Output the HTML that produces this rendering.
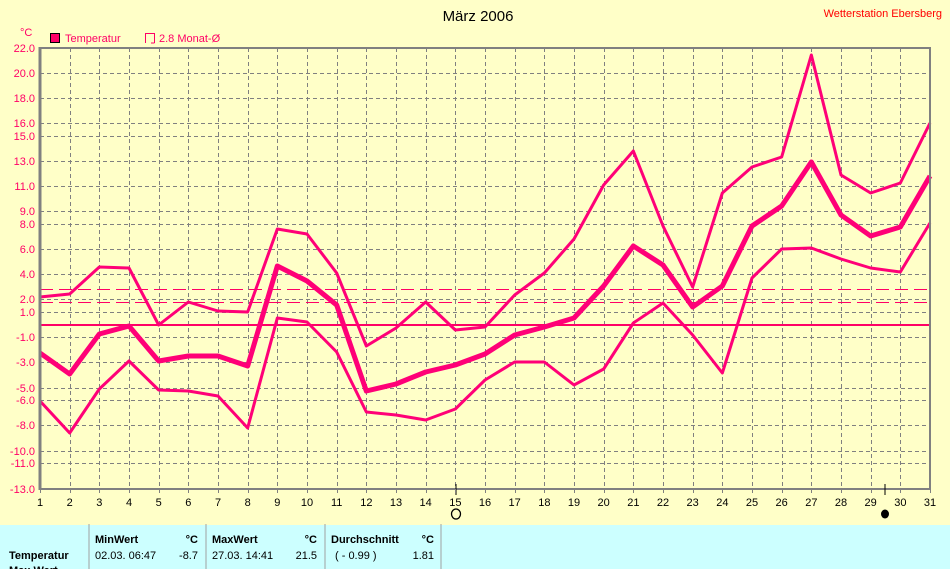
<!DOCTYPE html>
<html><head><meta charset="utf-8"><style>
body{margin:0;width:950px;height:569px;overflow:hidden;background:#ffffc8;font-family:"Liberation Sans",sans-serif}
</style></head><body>
<svg width="950" height="569" xmlns="http://www.w3.org/2000/svg" style="position:absolute;left:0;top:0" font-family="Liberation Sans, sans-serif">
<rect width="950" height="569" fill="#ffffc8"/>
<text x="478" y="21" font-size="15" text-anchor="middle" fill="#000">März 2006</text>
<text x="942" y="17" font-size="11" text-anchor="end" fill="#ff0000">Wetterstation Ebersberg</text>
<text x="20" y="36" font-size="11" fill="#ff0066">°C</text>
<rect x="50.5" y="33.5" width="9" height="9" fill="#ff0066" stroke="#000"/>
<text x="65" y="42" font-size="11" fill="#ff0066">Temperatur</text>
<path d="M145.5,43 V33.5 H154.5 V43 M151,43 H154.5" fill="none" stroke="#ff0066"/>
<text x="159" y="42" font-size="11" fill="#ff0066">2.8 Monat-Ø</text>
<g id="grid" stroke="#808080" stroke-dasharray="4,3" stroke-width="1">
</g>
<g id="ylab" font-size="11" fill="#ff0066" text-anchor="end"></g>
<g id="xlab" font-size="11" fill="#000" text-anchor="middle"></g>
<line x1="40" y1="289.5" x2="930" y2="289.5" stroke="#ff0066" stroke-dasharray="13,6"/>
<line x1="40" y1="302.5" x2="930" y2="302.5" stroke="#ff0066" stroke-dasharray="13,6"/>
<line x1="40" y1="325" x2="930" y2="325" stroke="#ff0066" stroke-width="2"/>
<g fill="none" stroke="#ff0077" stroke-linejoin="round">
<polyline id="mx" stroke-width="3"/>
<polyline id="mn" stroke-width="3"/>
<polyline id="av" stroke-width="5"/>
</g>
<path d="M40,48 H930 V489 H40 Z" fill="none" stroke="#808080" stroke-width="2"/>
<line x1="40" y1="47" x2="40" y2="490" stroke="#808080" stroke-width="3"/>
<line x1="456" y1="484" x2="456" y2="495" stroke="#000"/>
<line x1="885" y1="484" x2="885" y2="495" stroke="#000"/>
<ellipse cx="456" cy="514" rx="4.5" ry="5" fill="none" stroke="#000" stroke-width="1.3"/>
<ellipse cx="885" cy="514" rx="4" ry="4.5" fill="#000"/>
<rect x="0" y="524" width="950" height="45" fill="#ccffff"/>
<rect x="0" y="524" width="950" height="1" fill="#ffffc8"/>
<g stroke="#a0a0a0" stroke-width="1"><line x1="89" y1="524" x2="89" y2="569"/><line x1="206" y1="524" x2="206" y2="569"/><line x1="325" y1="524" x2="325" y2="569"/><line x1="441" y1="524" x2="441" y2="569"/></g>
<g font-size="11" fill="#000">
<text x="95" y="543" font-weight="bold">MinWert</text><text x="198" y="543" text-anchor="end" font-weight="bold">°C</text>
<text x="212" y="543" font-weight="bold">MaxWert</text><text x="317" y="543" text-anchor="end" font-weight="bold">°C</text>
<text x="331" y="543" font-weight="bold">Durchschnitt</text><text x="434" y="543" text-anchor="end" font-weight="bold">°C</text>
<text x="9" y="559" font-weight="bold">Temperatur</text>
<text x="95" y="559">02.03.  06:47</text><text x="198" y="559" text-anchor="end">-8.7</text>
<text x="212" y="559">27.03.  14:41</text><text x="317" y="559" text-anchor="end">21.5</text>
<text x="335" y="559">( - 0.99 )</text><text x="434" y="559" text-anchor="end">1.81</text>
<text x="9" y="574" font-weight="bold">Max.Wert</text>
</g>
</svg>
<script>
var ns="http://www.w3.org/2000/svg";
function X(d){return 40+(d-1)*890/30;}
var ys=[[48,"22.0"],[73,"20.0"],[98,"18.0"],[123,"16.0"],[136,"15.0"],[161,"13.0"],[186,"11.0"],[211,"9.0"],[224,"8.0"],[249,"6.0"],[274,"4.0"],[299,"2.0"],[312,"1.0"],[337,"-1.0"],[362,"-3.0"],[388,"-5.0"],[400,"-6.0"],[425,"-8.0"],[451,"-10.0"],[463,"-11.0"],[489,"-13.0"]];
var g=document.getElementById("grid"),yl=document.getElementById("ylab"),xl=document.getElementById("xlab");
ys.forEach(function(a){var l=document.createElementNS(ns,"line");l.setAttribute("x1",40);l.setAttribute("x2",930);l.setAttribute("y1",a[0]+.5);l.setAttribute("y2",a[0]+.5);g.appendChild(l);
var t=document.createElementNS(ns,"text");t.setAttribute("x",35);t.setAttribute("y",a[0]+4);t.textContent=a[1];yl.appendChild(t);});
for(var d=1;d<=31;d++){var x=Math.round(X(d))+.5;if(d>1&&d<31){var l=document.createElementNS(ns,"line");l.setAttribute("x1",x);l.setAttribute("x2",x);l.setAttribute("y1",48);l.setAttribute("y2",489);g.appendChild(l);}
var tk=document.createElementNS(ns,"line");tk.setAttribute("x1",x);tk.setAttribute("x2",x);tk.setAttribute("y1",489);tk.setAttribute("y2",493);tk.setAttribute("stroke","#808080");document.querySelector("svg").appendChild(tk);
var t=document.createElementNS(ns,"text");t.setAttribute("x",X(d));t.setAttribute("y",506);t.textContent=d;xl.appendChild(t);}
function P(id,a){document.getElementById(id).setAttribute("points",a.map(function(y,i){return X(i+1)+","+y;}).join(" "));}
P("mx",[297,294,267,268,325,302,311,312,229,234,273,346,328,302,330,327,295,273,239,185,151,226,287,193,167,157,55,175,193,183,123]);
P("av",[353,374,334,326,361,356,356,366,266,281,305,391,384,372,365,354,335,327,318,286,246,265,307,286,226,206,162,215,236,227,176]);
P("mn",[401,433,389,361,390,391,396,428,318,322,352,412,415,420,409,380,362,362,385,369,323,303,335,373,278,249,248,259,268,272,223]);
</script>
</body></html>
